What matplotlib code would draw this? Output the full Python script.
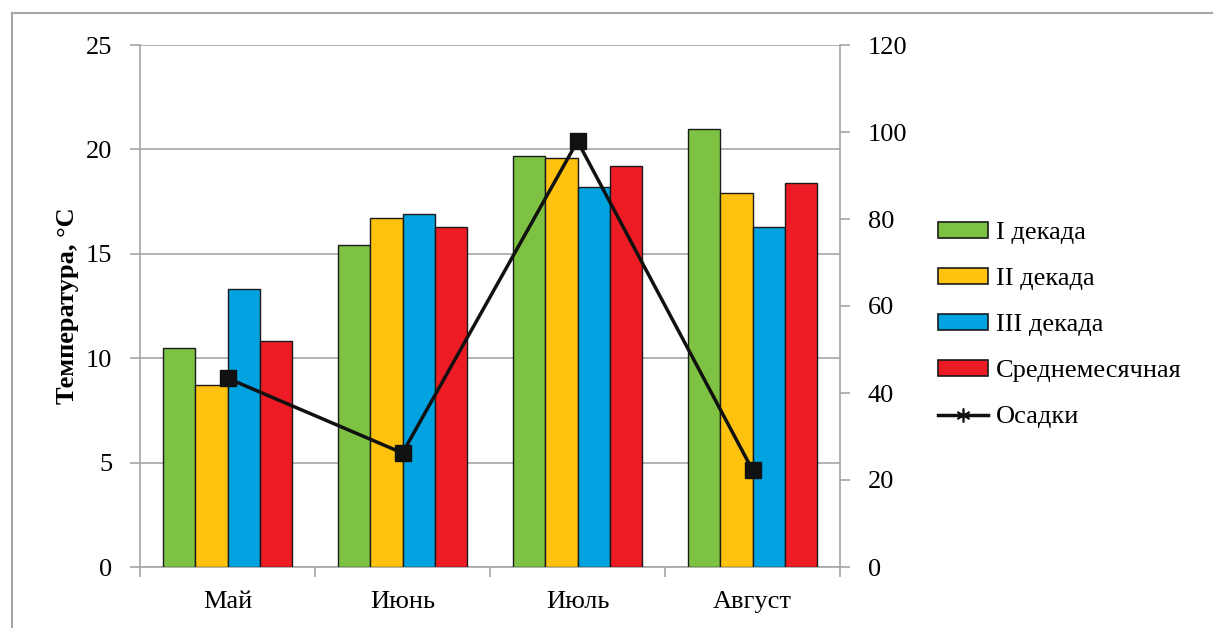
import matplotlib
matplotlib.use("Agg")
import matplotlib.pyplot as plt
import numpy as np
from matplotlib.lines import Line2D
from matplotlib.patches import Patch

months = ["Май", "Июнь", "Июль", "Август"]
dek1 = [10.5, 15.4, 19.7, 21.0]
dek2 = [8.7, 16.7, 19.6, 17.9]
dek3 = [13.3, 16.9, 18.2, 16.3]
mean_t = [10.8, 16.3, 19.2, 18.4]
precip = [43.4, 26.2, 97.9, 22.3]

series_names = ["I декада", "II декада", "III декада", "Среднемесячная"]
colors = ["#7DC242", "#FFC20E", "#00A2DF", "#ED1C24"]

plt.rcParams['font.family'] = ['Liberation Serif', 'DejaVu Serif']
FS = 19

fig = plt.figure(figsize=(12.13, 6.28), dpi=100)
W, H = 1213, 628
ax = fig.add_axes([140 / W, 1 - 567 / H, 700 / W, 522 / H])

x = np.arange(len(months))
bw = 0.183
series = [dek1, dek2, dek3, mean_t]
for i, (vals, c) in enumerate(zip(series, colors)):
    ax.bar(x + (i - 1.5) * bw, vals, width=bw, color=c, edgecolor="#1a1a1a",
           linewidth=1.0, zorder=3)

ax.set_xlim(-0.5, 3.5)
ax.set_ylim(0, 25)
ax.set_yticks([0, 5, 10, 15, 20, 25])
ax.grid(axis='y', color="#a6a6a6", linewidth=1.2, zorder=0)
ax.set_axisbelow(True)
ax.set_xticks(x)
ax.set_xticklabels(months, fontsize=FS)
ax.set_xticks(np.arange(-0.5, 4.0, 1.0), minor=True)
ax.tick_params(axis='x', which='major', length=0, pad=17)
ax.tick_params(axis='x', which='minor', length=7, width=1.2, color="#a6a6a6", direction='out')
ax.tick_params(axis='y', length=7, width=1.2, color="#a6a6a6", labelsize=FS, pad=13)
for s in ["top", "right"]:
    ax.spines[s].set_visible(False)
for s in ["left", "bottom"]:
    ax.spines[s].set_color("#a6a6a6")
    ax.spines[s].set_linewidth(1.2)
ax.set_ylabel("Температура, °С", fontsize=FS, fontweight='bold', labelpad=5)

ax2 = ax.twinx()
ax2.set_ylim(0, 120)
ax2.set_yticks([0, 20, 40, 60, 80, 100, 120])
ax2.plot(x, precip, color="#111111", linewidth=2.5, marker='s', markersize=11,
         markerfacecolor="#111111", zorder=5)
ax2.tick_params(axis='y', length=7, width=1.2, color="#a6a6a6", labelsize=FS, pad=13)
for s in ["top", "left", "bottom"]:
    ax2.spines[s].set_visible(False)
ax2.spines["right"].set_color("#a6a6a6")
ax2.spines["right"].set_linewidth(1.2)

handles = [Patch(facecolor=c, edgecolor="#1a1a1a", linewidth=1.2) for c in colors]
handles.append(Line2D([0], [0], color="#111111", linewidth=2.5, marker=(6, 2, 0),
                      markersize=10, markeredgewidth=1.2))
labels = series_names + ["Осадки"]
fig.legend(handles, labels, loc='center left', bbox_to_anchor=(938 / W, 1 - 325 / H),
           frameon=False, fontsize=FS, handlelength=1.9, handleheight=0.55,
           handletextpad=0.3, labelspacing=0.9, borderaxespad=0, borderpad=0)

# outer border (top and left)
fig.add_artist(Line2D([12 / W, 12 / W], [0, 1 - 13 / H], transform=fig.transFigure,
                      color="#a6a6a6", linewidth=1.5))
fig.add_artist(Line2D([12 / W, 1], [1 - 13 / H, 1 - 13 / H], transform=fig.transFigure,
                      color="#a6a6a6", linewidth=1.5))

fig.savefig("out.png", dpi=100)
